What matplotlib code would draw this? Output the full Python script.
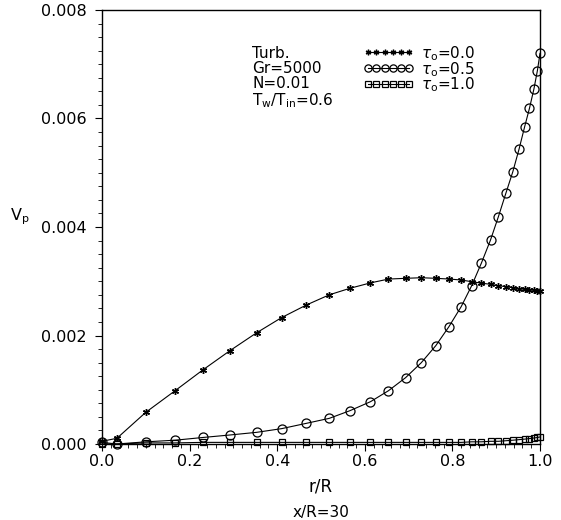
import numpy as np
import matplotlib
matplotlib.use('Agg')
import matplotlib.pyplot as plt
from matplotlib.ticker import MultipleLocator, FormatStrFormatter

plt.rcParams['font.family'] = ['DejaVu Sans']
plt.rcParams['mathtext.fontset'] = 'dejavusans'

# radial positions (shared grid, clustered near the wall)
r = [0.0, 0.034, 0.100, 0.167, 0.230, 0.292, 0.353, 0.410, 0.466, 0.519,
     0.566, 0.613, 0.654, 0.693, 0.729, 0.762, 0.792, 0.820, 0.844, 0.866,
     0.887, 0.905, 0.922, 0.938, 0.952, 0.965, 0.976, 0.986, 0.994, 1.0]

vp_tau00 = [0.00005, 0.000105, 0.000584, 0.000983, 0.001364, 0.00172, 0.00205,
            0.00233, 0.00256, 0.00275, 0.00287, 0.00297, 0.00304, 0.003054,
            0.003065, 0.003054, 0.003041, 0.003023, 0.002992, 0.002965,
            0.002944, 0.002918, 0.00290, 0.00288, 0.002862, 0.00285,
            0.002843, 0.002835, 0.002825, 0.00282]

vp_tau05 = [0.00003, 0.0, 0.00004, 0.00007, 0.00012, 0.000166, 0.000215,
            0.000283, 0.00038, 0.000473, 0.000614, 0.00078, 0.000982,
            0.001222, 0.001499, 0.001812, 0.002162, 0.002531, 0.002918,
            0.003331, 0.00376, 0.00419, 0.00462, 0.00502, 0.00543, 0.00585,
            0.00619, 0.00654, 0.00688, 0.00720]

vp_tau10 = [0.0, 0.0, 0.00002, 0.00002, 0.00003, 0.00003, 0.00003, 0.00003,
            0.00003, 0.00003, 0.00003, 0.00003, 0.00003, 0.00003, 0.00003,
            0.00003, 0.00003, 0.00003, 0.00004, 0.00004, 0.00005, 0.00005,
            0.00006, 0.00007, 0.00008, 0.00009, 0.0001, 0.00011, 0.00012,
            0.00013]

labels = [r'$\tau_{\rm o}$=0.0', r'$\tau_{\rm o}$=0.5', r'$\tau_{\rm o}$=1.0']
info_text = 'Turb.\nGr=5000\nN=0.01\nT$_{\\rm w}$/T$_{\\rm in}$=0.6'

fig = plt.figure(figsize=(5.61, 5.20), dpi=100)
ax = fig.add_axes([102 / 561, 1 - 444 / 520, 438 / 561, 434 / 520])

l0, = ax.plot(r, vp_tau00, color='k', lw=0.8, marker=(6, 2, 0), ms=5, mew=1.0,
              clip_on=False)
l1, = ax.plot(r, vp_tau05, color='k', lw=0.8, marker='o', ms=6.5, mfc='none',
              mew=0.9, clip_on=False)
l2, = ax.plot(r, vp_tau10, color='k', lw=0.8, marker='s', ms=5, mfc='none',
              mew=0.9, clip_on=False)

ax.set_xlim(0, 1.0)
ax.set_ylim(0, 0.008)
ax.xaxis.set_major_locator(MultipleLocator(0.2))
ax.xaxis.set_minor_locator(MultipleLocator(0.02))
ax.yaxis.set_major_locator(MultipleLocator(0.002))
ax.yaxis.set_minor_locator(MultipleLocator(0.00025))
ax.xaxis.set_major_formatter(FormatStrFormatter('%.1f'))
ax.yaxis.set_major_formatter(FormatStrFormatter('%.3f'))
ax.tick_params(which='major', direction='out', length=5, width=0.8,
               labelsize=11.5, top=False, right=False)
ax.tick_params(which='minor', direction='out', length=3, width=0.6,
               top=False, right=False)
ax.tick_params(axis='y', which='major', pad=6)
ax.tick_params(axis='x', which='major', pad=2)
for s in ax.spines.values():
    s.set_linewidth(1.0)

ax.set_xlabel('r/R', fontsize=12, labelpad=6)
ax.set_ylabel('V$_{\\rm p}$', fontsize=11.5, rotation=0)
ax.yaxis.set_label_coords(-0.187, 0.5)
fig.text((102 + 219) / 561, 1 - 513 / 520, 'x/R=30', ha='center',
         va='center', fontsize=11)

ax.text((252 - 102) / 438, 1 - (46 - 10) / 434, info_text,
        transform=ax.transAxes, ha='left', va='top', fontsize=11,
        linespacing=1.0)

# legend: marker samples from the legend, labels as one text block
ax.legend([l0, l1, l2], ['', '', ''], loc='upper left',
          bbox_to_anchor=((356 - 102) / 438, 1 - (37 - 10) / 434),
          frameon=False, numpoints=6, handlelength=3.3, handletextpad=0,
          handleheight=0.6, labelspacing=0.07, fontsize=11, markerscale=0.8,
          borderpad=0)
ax.text((421 - 102) / 438, 1 - (44 - 10) / 434, '\n'.join(labels),
        transform=ax.transAxes, ha='left', va='top', fontsize=11,
        linespacing=0.8)

fig.savefig('out.png', dpi=100)
